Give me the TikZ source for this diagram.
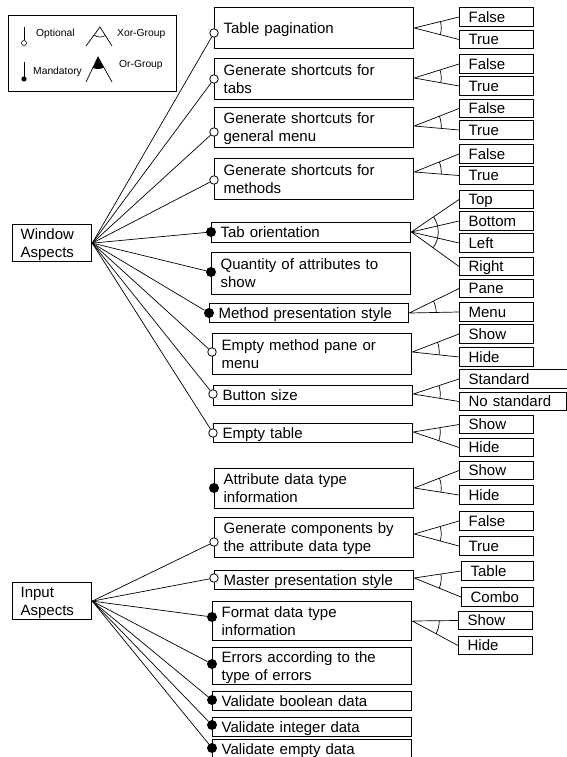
\documentclass[tikz,border=0pt]{standalone}
\usepackage{fontspec}
\setmainfont{Liberation Sans}
\usetikzlibrary{angles}
\newcommand\mystrut{\rule[-3.3pt]{0pt}{17.3pt}}
\newcommand\xorg[3]{\coordinate (#2w) at (#2.west);\coordinate (#3w) at (#3.west);\pic[draw,conn,angle radius=27pt]{angle=#2w--#1--#3w};}
\begin{document}
\begin{tikzpicture}[x=1pt,y=-1pt,
  conn/.style={line width=0.7pt},
  feat/.style={draw,line width=1.25pt,anchor=north west,text width=181pt,minimum width=199pt,inner xsep=9pt,inner ysep=0pt,align=left,font=\fontsize{15}{18}\selectfont,execute at begin node=\mystrut,execute at end node=\mystrut},
  rootbox/.style={draw,line width=1.25pt,anchor=north west,text width=63pt,minimum width=79pt,minimum height=37pt,inner xsep=8pt,inner ysep=0pt,align=left,font=\fontsize{15}{18}\selectfont,execute at begin node=\mystrut,execute at end node=\mystrut},
  valbox/.style={draw,line width=1.25pt,anchor=west,text width=56pt,minimum width=74pt,minimum height=18.5pt,inner xsep=9pt,inner ysep=0pt,align=left,font=\fontsize{15}{18}\selectfont,execute at begin node=\mystrut},
  opt/.style={circle,draw,fill=white,line width=0.8pt,inner sep=0pt,minimum size=8.5pt},
  man/.style={circle,fill=black,inner sep=0pt,minimum size=10pt},
  legtxt/.style={anchor=west,inner sep=0pt,font=\fontsize{10.3}{12}\selectfont}
]
\useasboundingbox (0,0) rectangle (567,757);
\clip (0,0) rectangle (567,757);

% ---------- legend ----------
\node[draw,line width=1pt,anchor=north west,minimum width=168pt,minimum height=76pt,inner sep=0pt] (leg) at (8,15) {};
\draw[line width=0.7pt] (24,27) -- (24,40.5);
\draw[line width=0.6pt,fill=white] (24,43) circle[radius=2.5];
\draw[line width=0.7pt] (24,62) -- (24,77);
\fill (24,79) circle[radius=2.6];
\node[legtxt] (lopt) at (36,34) {Optional};
\node[legtxt] (lman) at (33,72) {Mandatory};
\draw[line width=0.7pt] (86,46) -- (100,27) -- (112,46);
\draw[line width=0.6pt] (100,27) ++(57.7:10) arc[start angle=57.7,end angle=126.4,radius=10];
\node[legtxt] (lxor) at (117,34) {Xor-Group};
\fill (98,57) -- ++(60.8:12) arc[start angle=60.8,end angle=115.6,radius=12] -- cycle;
\draw[line width=0.7pt] (86,82) -- (98,57) -- (112,82);
\node[legtxt] (lor) at (119,65) {Or-Group};

% ---------- roots ----------
\node[rootbox] (wa) at (12,224) {Window\\Aspects};
\node[rootbox] (ia) at (12,582) {Input\\Aspects};

% ---------- features ----------
\node[feat,minimum height=41pt] (tp) at (214,7) {Table pagination};
\node[feat,minimum height=41pt] (gt) at (214,58) {Generate shortcuts for\\tabs};
\node[feat,minimum height=40pt] (gg) at (214,107) {Generate shortcuts for\\general menu};
\node[feat,minimum height=41pt] (gm) at (214,158) {Generate shortcuts for\\methods};
\node[feat,minimum height=20pt] (to) at (211,222) {Tab orientation};
\node[feat,minimum height=42pt] (qa) at (211,252) {Quantity of attributes to\\show};
\node[feat,minimum height=19pt] (mp) at (209,303) {Method presentation style};
\node[feat,minimum height=41pt] (em) at (212,333) {Empty method pane or\\menu};
\node[feat,minimum height=20pt] (bs) at (213,385) {Button size};
\node[feat,minimum height=19pt] (et) at (213,423) {Empty table};
\node[feat,minimum height=40pt] (ad) at (214,468) {Attribute data type\\information};
\node[feat,minimum height=40pt] (gc) at (214,517) {Generate components by\\the attribute data type};
\node[feat,minimum height=18.5pt] (ms) at (214,570) {Master presentation style};
\node[feat,minimum height=39pt] (fd) at (212,601) {Format data type\\information};
\node[feat,minimum height=37pt] (ea) at (212,647) {Errors according to the\\type of errors};
\node[feat,minimum height=19pt] (vb) at (212,691) {Validate boolean data};
\node[feat,minimum height=18.5pt] (vi) at (212,717) {Validate integer data};
\node[feat,minimum height=19pt] (ve) at (212,739) {Validate empty data};

% ---------- values ----------
\node[valbox] (f1) at (459,17) {False};
\node[valbox] (t1) at (459,39.5) {True};
\node[valbox] (f2) at (459,64) {False};
\node[valbox] (t2) at (459,86) {True};
\node[valbox] (f3) at (459,108.5) {False};
\node[valbox] (t3) at (459,130) {True};
\node[valbox] (f4) at (459,154) {False};
\node[valbox] (t4) at (459,175.5) {True};
\node[valbox] (oTop) at (459,199.5) {Top};
\node[valbox] (oBot) at (459,221) {Bottom};
\node[valbox] (oLft) at (459,243) {Left};
\node[valbox] (oRgt) at (459,266.5) {Right};
\node[valbox] (pane) at (459,288.5) {Pane};
\node[valbox] (menu) at (459,312) {Menu};
\node[valbox] (sh1) at (459,334) {Show};
\node[valbox] (hi1) at (459,357) {Hide};
\node[valbox,text width=91pt,minimum width=109pt] (std) at (459,379) {Standard};
\node[valbox,text width=89pt,minimum width=107pt] (nstd) at (459,401.5) {No standard};
\node[valbox] (sh2) at (459,424.5) {Show};
\node[valbox] (hi2) at (459,447.5) {Hide};
\node[valbox] (sh3) at (459,470.5) {Show};
\node[valbox] (hi3) at (459,495) {Hide};
\node[valbox] (f5) at (459,521) {False};
\node[valbox] (t5) at (459,546) {True};
\node[valbox,minimum width=72pt,text width=54pt] (tab) at (461,571) {Table};
\node[valbox,minimum width=72pt,text width=54pt] (cmb) at (461,597) {Combo};
\node[valbox] (sh4) at (458,620.5) {Show};
\node[valbox] (hi4) at (458,645.5) {Hide};

% ---------- dots ----------
\node[opt] (tpD) at (tp.west |- 0,33) {};
\node[opt] (gtD) at (gt.west |- 0,79) {};
\node[opt] (ggD) at (gg.west |- 0,132) {};
\node[opt] (gmD) at (gm.west |- 0,180) {};
\node[man] (toD) at (to.west |- 0,232) {};
\node[man] (qaD) at (qa.west |- 0,272) {};
\node[man] (mpD) at (mp.west |- 0,313) {};
\node[opt] (emD) at (em.west |- 0,352) {};
\node[opt] (bsD) at (bs.west |- 0,394) {};
\node[opt] (etD) at (et.west |- 0,433) {};
\node[man] (adD) at (ad.west |- 0,488) {};
\node[opt] (gcD) at (gc.west |- 0,542) {};
\node[opt] (msD) at (ms.west |- 0,578) {};
\node[man] (fdD) at (fd.west |- 0,617) {};
\node[man] (eaD) at (ea.west |- 0,664) {};
\node[man] (vbD) at (vb.west |- 0,700) {};
\node[man] (viD) at (vi.west |- 0,725) {};
\node[man] (veD) at (ve.west |- 0,748) {};

% ---------- root connectors ----------
\foreach \d in {tpD,gtD,ggD,gmD,toD,qaD,mpD,emD,bsD,etD}
  \draw[conn] (wa.east) -- (\d);
\foreach \d in {gcD,msD,fdD,eaD,vbD,viD,veD}
  \draw[conn] (ia.east) -- (\d);

% ---------- apexes ----------
\coordinate (tpA) at (tp.east |- 0,28);
\coordinate (gtA) at (gt.east |- 0,78);
\coordinate (ggA) at (gg.east |- 0,126);
\coordinate (gmA) at (gm.east |- 0,172);
\coordinate (toA) at (to.east |- 0,232);
\coordinate (mpA) at (mp.east |- 0,313);
\coordinate (emA) at (em.east |- 0,352);
\coordinate (bsA) at (bs.east |- 0,394);
\coordinate (etA) at (et.east |- 0,432);
\coordinate (adA) at (ad.east |- 0,488);
\coordinate (gcA) at (gc.east |- 0,534);
\coordinate (msA) at (ms.east |- 0,578);
\coordinate (fdA) at (fd.east |- 0,621);

% ---------- group connectors ----------
\draw[conn] (tpA) -- (f1.west) (tpA) -- (t1.west);  \xorg{tpA}{t1}{f1}
\draw[conn] (gtA) -- (f2.west) (gtA) -- (t2.west);  \xorg{gtA}{t2}{f2}
\draw[conn] (ggA) -- (f3.west) (ggA) -- (t3.west);  \xorg{ggA}{t3}{f3}
\draw[conn] (gmA) -- (f4.west) (gmA) -- (t4.west);  \xorg{gmA}{t4}{f4}
\draw[conn] (toA) -- (oTop.west) (toA) -- (oBot.west) (toA) -- (oLft.west) (toA) -- (oRgt.west);  \xorg{toA}{oRgt}{oTop}
\draw[conn] (mpA) -- (pane.west) (mpA) -- (menu.west);  \xorg{mpA}{menu}{pane}
\draw[conn] (emA) -- (sh1.west) (emA) -- (hi1.west);  \xorg{emA}{hi1}{sh1}
\draw[conn] (bsA) -- (std.west) (bsA) -- (nstd.west);  \xorg{bsA}{nstd}{std}
\draw[conn] (etA) -- (sh2.west) (etA) -- (hi2.west);  \xorg{etA}{hi2}{sh2}
\draw[conn] (adA) -- (sh3.west) (adA) -- (hi3.west);  \xorg{adA}{hi3}{sh3}
\draw[conn] (gcA) -- (f5.west) (gcA) -- (t5.west);  \xorg{gcA}{t5}{f5}
\draw[conn] (msA) -- (tab.west) (msA) -- (cmb.west);  \xorg{msA}{cmb}{tab}
\draw[conn] (fdA) -- (sh4.west) (fdA) -- (hi4.west);  \xorg{fdA}{hi4}{sh4}
\end{tikzpicture}
\end{document}
